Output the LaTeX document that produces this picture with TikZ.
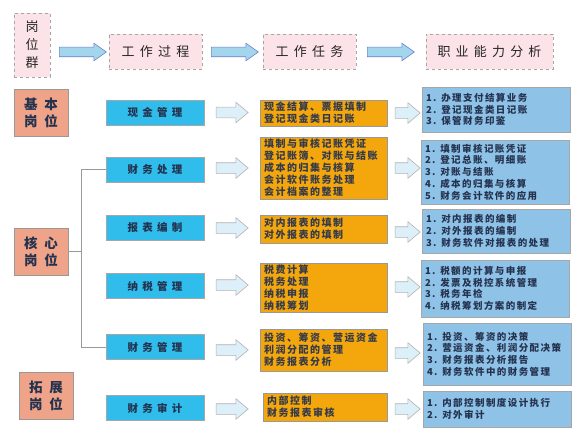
\documentclass[tikz,border=0pt]{standalone}
\usepackage{fontspec}
\usepackage{xcolor}
\usetikzlibrary{shapes.arrows}
\newfontfamily\cjk{Noto Sans CJK SC}[LetterSpace=15]
\newfontfamily\cjkmid{Noto Sans CJK SC}[LetterSpace=40]
\newfontfamily\cjkwide{Noto Sans CJK SC}[LetterSpace=50]
\definecolor{hdpink}{HTML}{FBE3E7}
\definecolor{catsalmon}{HTML}{EFA489}
\definecolor{jobcyan}{HTML}{30BDEB}
\definecolor{taskorange}{HTML}{F3A70C}
\definecolor{abilblue}{HTML}{8FC2E7}
\definecolor{arrowblue}{HTML}{A3D5EC}
\definecolor{arrowpale}{HTML}{DDEFF8}
\definecolor{inkdark}{HTML}{24324E}

\begin{document}
\begin{tikzpicture}[x=1pt,y=-1pt,
    hdr/.style={draw=gray!70,dashed,line width=0.8pt,fill=hdpink,minimum height=35pt,inner sep=0pt,text=black!85,font=\cjkmid\fontsize{13}{18}\selectfont},
    cat/.style={draw=gray!80,line width=0.6pt,fill=catsalmon,minimum width=54pt,minimum height=47pt,inner sep=0pt,align=center,text=inkdark,font=\cjkwide\bfseries\fontsize{13.5}{17}\selectfont},
    job/.style={draw=gray!70,line width=0.6pt,fill=jobcyan,minimum width=98pt,minimum height=25pt,inner sep=0pt,text=inkdark,font=\cjkmid\bfseries\fontsize{10.5}{12}\selectfont},
    task/.style={draw=gray!80,line width=0.6pt,fill=taskorange,text width=119pt,inner xsep=4pt,inner ysep=0pt,align=left,text=inkdark!90!brown,font=\cjk\bfseries\fontsize{10}{12}\selectfont},
    abil/.style={draw=gray!70,line width=0.6pt,fill=abilblue,text width=140pt,inner xsep=4pt,inner ysep=0pt,align=left,text=inkdark,font=\cjk\bfseries\fontsize{9.5}{11.7}\selectfont},
    bigarrow/.style={single arrow,draw=arrowblue!60!blue!70!gray,fill=arrowblue,line width=0.6pt,minimum height=47pt,inner xsep=0pt,inner ysep=4.5pt,single arrow head extend=4pt,single arrow tip angle=70},
    smallarrow/.style={single arrow,draw=gray!60,fill=arrowpale,line width=0.6pt,minimum height=32pt,inner xsep=0pt,inner ysep=5pt,single arrow head extend=5pt,single arrow tip angle=80},
    bracket/.style={draw=gray!80,line width=0.8pt}]
    \useasboundingbox (0,0) rectangle (588,441);

    % header row
    \node[hdr,minimum width=36pt,minimum height=64pt,align=center] (grp) at (32,45) {岗\\位\\群};
    \node[hdr,minimum width=93pt] (proc) at (155.5,51.5) {工作过程};
    \node[hdr,minimum width=93pt] (work) at (309.5,51.5) {工作任务};
    \node[hdr,minimum width=127pt] (skill) at (489.5,51.5) {职业能力分析};
    \node[bigarrow] (h1) at (79.5,52) {};
    \node[bigarrow] (h2) at (231.5,52) {};
    \node[bigarrow] (h3) at (387.5,52) {};

    % post groups
    \node[cat] (basic) at (41,113) {基本\\岗位};
    \node[cat] (core) at (41,251.5) {核心\\岗位};
    \node[cat] (ext) at (46,395.5) {拓展\\岗位};

    % work processes
    \node[job] (j1) at (155,112.5) {现金管理};
    \node[job] (j2) at (155,169.5) {财务处理};
    \node[job] (j3) at (155,227.5) {报表编制};
    \node[job] (j4) at (155,286) {纳税管理};
    \node[job] (j5) at (155,347) {财务管理};
    \node[job] (j6) at (155,408) {财务审计};

    % work tasks
    \node[task,minimum height=26pt] (t1) at (323.5,113) {现金结算、票据填制\\登记现金类日记账};
    \node[task,minimum height=62pt] (t2) at (323.5,168) {填制与审核记账凭证\\登记账簿、对账与结账\\成本的归集与核算\\会计软件账务处理\\会计档案的整理};
    \node[task,minimum height=28pt] (t3) at (323.5,229) {对内报表的填制\\对外报表的填制};
    \node[task,minimum height=49pt] (t4) at (323.5,287.5) {税费计算\\税务处理\\纳税申报\\纳税筹划};
    \node[task,minimum height=42pt] (t5) at (323.5,350) {投资、筹资、营运资金\\利润分配的管理\\财务报表分析};
    \node[task,minimum height=28pt,text width=116pt] (t6) at (325,407) {内部控制\\财务报表审核};

    % abilities
    \node[abil,minimum height=45pt] (a1) at (496,109.5) {1. 办理支付结算业务\\2. 登记现金类日记账\\3. 保管财务印鉴};
    \node[abil,minimum height=64pt] (a2) at (495,172) {1. 填制审核记账凭证\\2. 登记总账、明细账\\3. 对账与结账\\4. 成本的归集与核算\\5. 财务会计软件的应用};
    \node[abil,minimum height=44pt] (a3) at (496,231) {1. 对内报表的编制\\2. 对外报表的编制\\3. 财务软件对报表的处理};
    \node[abil,minimum height=57pt] (a4) at (495,288.5) {1. 税额的计算与申报\\2. 发票及税控系统管理\\3. 税务年检\\4. 纳税筹划方案的制定};
    \node[abil,minimum height=62pt] (a5) at (497,354) {1. 投资、筹资的决策\\2. 营运资金、利润分配决策\\3. 财务报表分析报告\\4. 财务软件中的财务管理};
    \node[abil,minimum height=36pt] (a6) at (497,409) {1. 内部控制制度设计执行\\2. 对外审计};

    % small arrows
    \node[smallarrow] (l1) at (229,112.5) {};
    \node[smallarrow] (l2) at (229,168) {};
    \node[smallarrow] (l3) at (229,228) {};
    \node[smallarrow] (l4) at (229,285) {};
    \node[smallarrow] (l5) at (229,350) {};
    \node[smallarrow] (l6) at (229,409) {};
    \node[smallarrow,minimum height=25pt] (r1) at (404.5,113) {};
    \node[smallarrow,minimum height=25pt] (r2) at (404.5,168) {};
    \node[smallarrow,minimum height=25pt] (r3) at (404.5,232) {};
    \node[smallarrow,minimum height=25pt] (r4) at (404.5,287) {};
    \node[smallarrow,minimum height=25pt] (r5) at (404.5,353) {};
    \node[smallarrow,minimum height=25pt] (r6) at (404.5,409) {};

    % bracket of core posts
    \coordinate (fork) at (81,251.5);
    \draw[bracket] (core) -- (fork);
    \draw[bracket] (fork) |- (j2);
    \draw[bracket] (fork) |- (j5);
\end{tikzpicture}
\end{document}
